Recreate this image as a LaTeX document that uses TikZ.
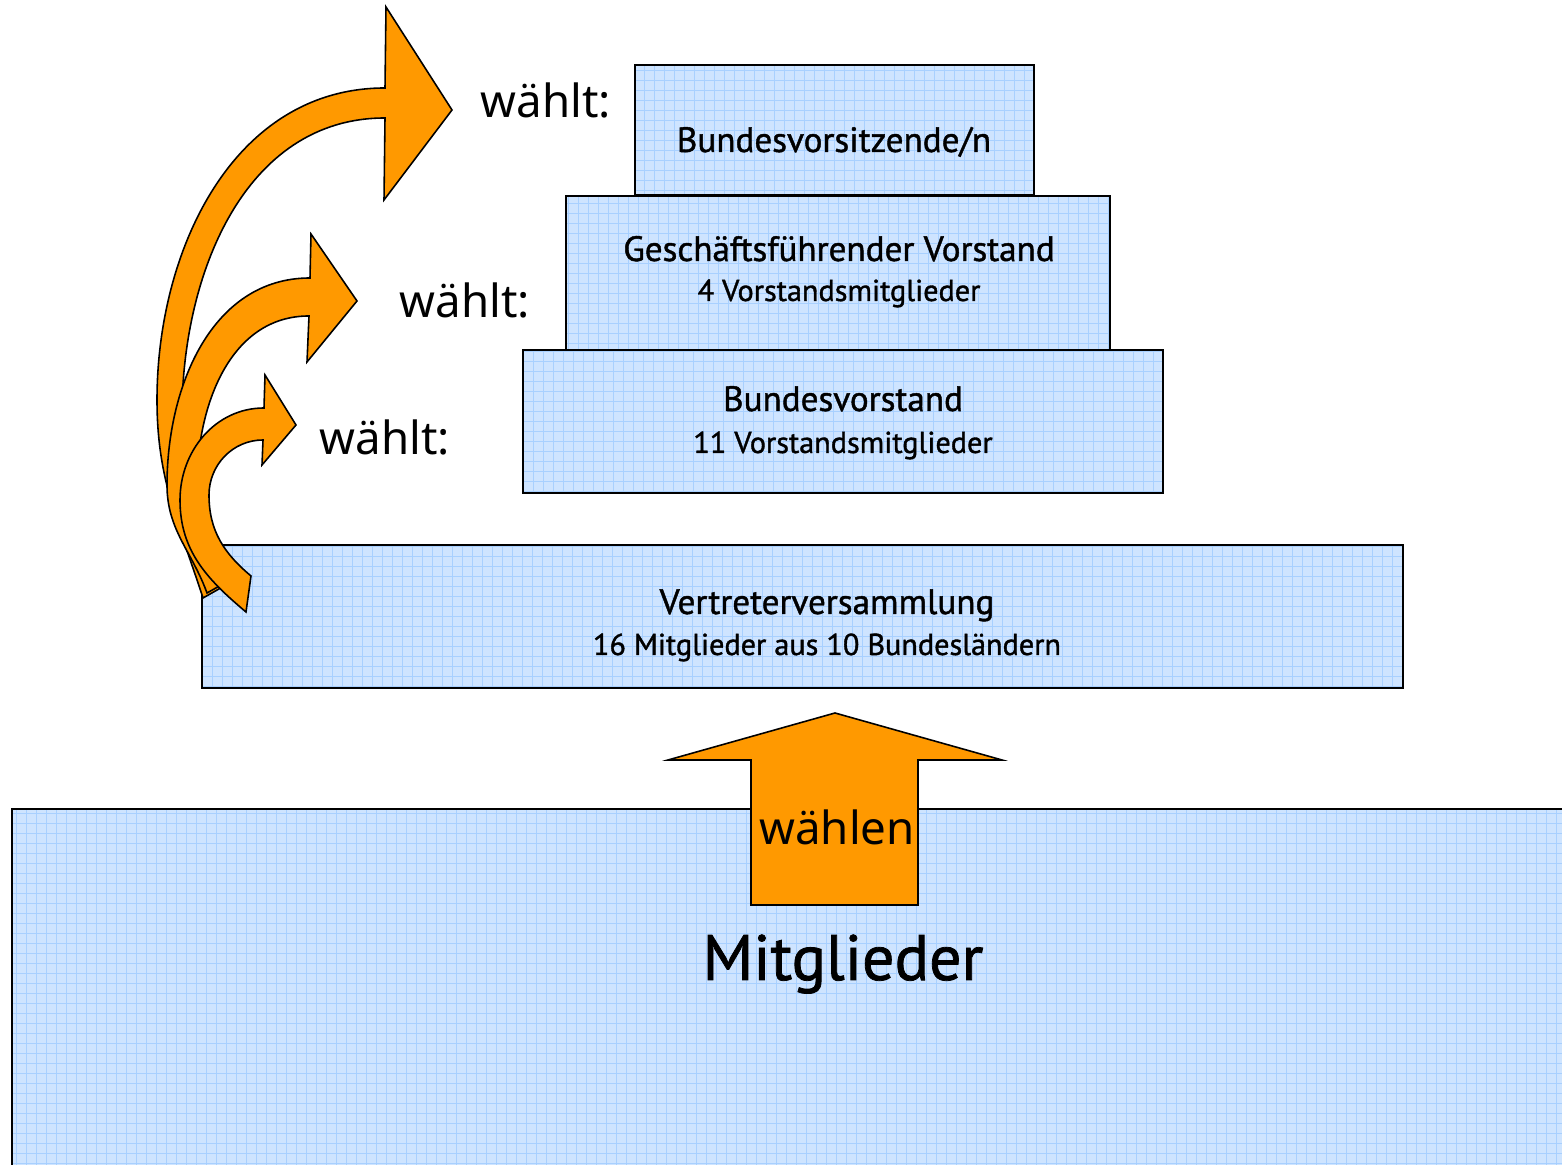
\documentclass[tikz,border=0pt]{standalone}
\usepackage{fontspec}
\setmainfont{PT Sans}
\newfontfamily\boxfont{PT Sans}[FakeBold=1.2]
\newfontfamily\wahlfont{Noto Sans}
\usepackage{tikz}
\usetikzlibrary{positioning}

\definecolor{boxblue}{RGB}{206,228,255}
\definecolor{gridblue}{RGB}{168,208,255}
\definecolor{wahlorange}{RGB}{255,153,0}

\begin{document}
\begin{tikzpicture}[x=0.02cm,y=0.02cm,
    level/.style={draw=black,line width=1pt,fill=boxblue,rectangle,inner sep=0pt,
      path picture={\draw[gridblue,line width=0.5pt]
        (path picture bounding box.south west) grid[step=0.2cm] (path picture bounding box.north east);}},
    wahlarrow/.style={draw=black,line width=0.9pt,fill=wahlorange,line join=miter},
    titletext/.style={anchor=base,inner sep=0pt,font=\boxfont\fontsize{20}{23}\selectfont},
    subtext/.style={anchor=base,inner sep=0pt,font=\boxfont\fontsize{17.2}{20}\selectfont},
    wahltext/.style={anchor=base,inner sep=0pt,font=\wahlfont\fontsize{26}{30}\selectfont}]

  \useasboundingbox (0,0) rectangle (1562,1165);
  \clip (0,0) rectangle (1562,1165);

  % members at the bottom
  \node [level,anchor=north west,minimum width=31.8cm,minimum height=8.2cm] (members) at (11,357) {};
  \draw [wahlarrow] (751,260) -- (751,405) -- (668,405) -- (835,452) -- (1002,405) -- (918,405) -- (918,260) -- cycle;
  \node [wahltext] (waehlen) at (837,320) {wählen};
  \node [anchor=base,inner sep=0pt,font=\boxfont\fontsize{36.5}{42}\selectfont] (memberslab) at (843,185) {Mitglieder};

  % the levels
  \node [level,minimum width=24.02cm,minimum height=2.86cm] (VV) at (802.5,548.5) {};
  \node [level,minimum width=7.98cm,minimum height=2.6cm] (BVS) at (834.5,1035) {};
  \node [level,minimum width=10.88cm,minimum height=3.08cm] (GV) at (838,892) {};
  \node [level,minimum width=12.8cm,minimum height=2.86cm] (BV) at (843,743.5) {};

  \node [titletext] (VVtitle) at (827,551) {Vertreterversammlung};
  \node [subtext] (VVsub) at (827,510) {16 Mitglieder aus 10 Bundesländern};
  \node [titletext] (BVtitle) at (843,754) {Bundesvorstand};
  \node [subtext] (BVsub) at (843,712) {11 Vorstandsmitglieder};
  \node [titletext] (GVtitle) at (839,904) {Geschäftsführender Vorstand};
  \node [subtext] (GVsub) at (839,864) {4 Vorstandsmitglieder};
  \node [titletext] (BVStitle) at (834,1013) {Bundesvorsitzende/n};

  % who elects whom
  \node [wahltext] (wahlBVS) at (546,1047) {wählt:};
  \node [wahltext] (wahlGV) at (465,847) {wählt:};
  \node [wahltext] (wahlBV) at (385,710) {wählt:};

  \draw [wahlarrow] (203,567) to[out=108,in=-90] (157,765) to[out=90,in=180] (385,1077)
    -- (386,1158) -- (452,1055) -- (384,965) -- (385,1047)
    to[out=180,in=90] (182,750) to[out=-90,in=115] (226,580) -- cycle;
  \draw [wahlarrow] (207,572) to[out=110,in=-90] (167,680) to[out=90,in=180] (310,887)
    -- (311,931) -- (357,864) -- (307,803) -- (309,849)
    to[out=180,in=90] (197,680) to[out=-90,in=120] (230,585) -- cycle;
  \draw [wahlarrow] (246,553) to[out=140,in=-90] (180,665) to[out=90,in=180] (264,757)
    -- (265,790) -- (296,740) -- (262,700) -- (263,725)
    to[out=180,in=90] (209,670) to[out=-90,in=140] (251,589) -- cycle;

\end{tikzpicture}
\end{document}
